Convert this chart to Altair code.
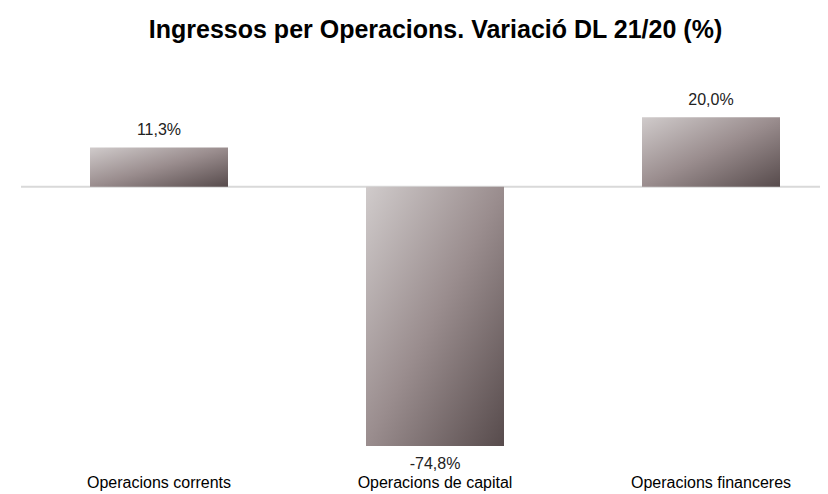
import altair as alt
import pandas as pd

categories = ["Operacions corrents", "Operacions de capital", "Operacions financeres"]
values = [11.3, -74.8, 20.0]
title_text = "Ingressos per Operacions. Variació DL 21/20 (%)"

labels = [f"{v:.1f}".replace(".", ",") + "%" for v in values]
df = pd.DataFrame({"cat": categories, "val": values, "label": labels})

W, H = 799, 364
FONT = "Liberation Sans"

xscale = alt.Scale(domain=categories, range=[0, 828], paddingInner=0.5, paddingOuter=0.25)
yscale = alt.Scale(domain=[-80, 25], nice=False, zero=False)

x_enc = alt.X("cat:N", scale=xscale, sort=categories,
              axis=alt.Axis(title=None, domain=False, ticks=False, grid=False, labelAngle=0,
                            labelFont=FONT, labelFontSize=16, labelColor="#000000",
                            labelPadding=10, labelBaseline="top"))
y_enc = alt.Y("val:Q", scale=yscale, axis=None)

base = alt.Chart(df)

zero_rule = alt.Chart(pd.DataFrame({"z": [0]})).mark_rule(color="#d9d9d9", strokeWidth=2).encode(
    y=alt.Y("z:Q", scale=yscale, axis=None),
    x=alt.value(0), x2=alt.value(W),
)

grad = alt.Gradient(
    gradient="linear",
    stops=[
        alt.GradientStop(color="#d0cbcb", offset=0),
        alt.GradientStop(color="#9a8d8e", offset=0.5),
        alt.GradientStop(color="#574b4c", offset=1),
    ],
    x1=0, y1=0, x2=1, y2=1,
)

bars = base.mark_bar(color=grad).encode(
    x=x_enc,
    y=y_enc,
    y2=alt.datum(0),
)

pos_text = base.transform_filter("datum.val >= 0").mark_text(
    baseline="bottom", dy=-9, font=FONT, fontSize=16, color="#222222"
).encode(x=x_enc, y=y_enc, text="label:N")

neg_text = base.transform_filter("datum.val < 0").mark_text(
    baseline="top", dy=10, font=FONT, fontSize=16, color="#222222"
).encode(x=x_enc, y=y_enc, text="label:N")

chart = alt.layer(zero_rule, bars, pos_text, neg_text).properties(
    width=W, height=H,
    background="white",
    title=alt.TitleParams(title_text, font=FONT, fontSize=25, fontWeight="bold",
                          color="#000000", anchor="middle", offset=49, dx=15),
    autosize=alt.AutoSizeParams(type="none"),
    padding={"left": 13, "top": 92, "right": 0, "bottom": 30},
).configure_view(strokeWidth=0)

chart.save("out.html", embed_options={"renderer": "svg", "actions": False})
